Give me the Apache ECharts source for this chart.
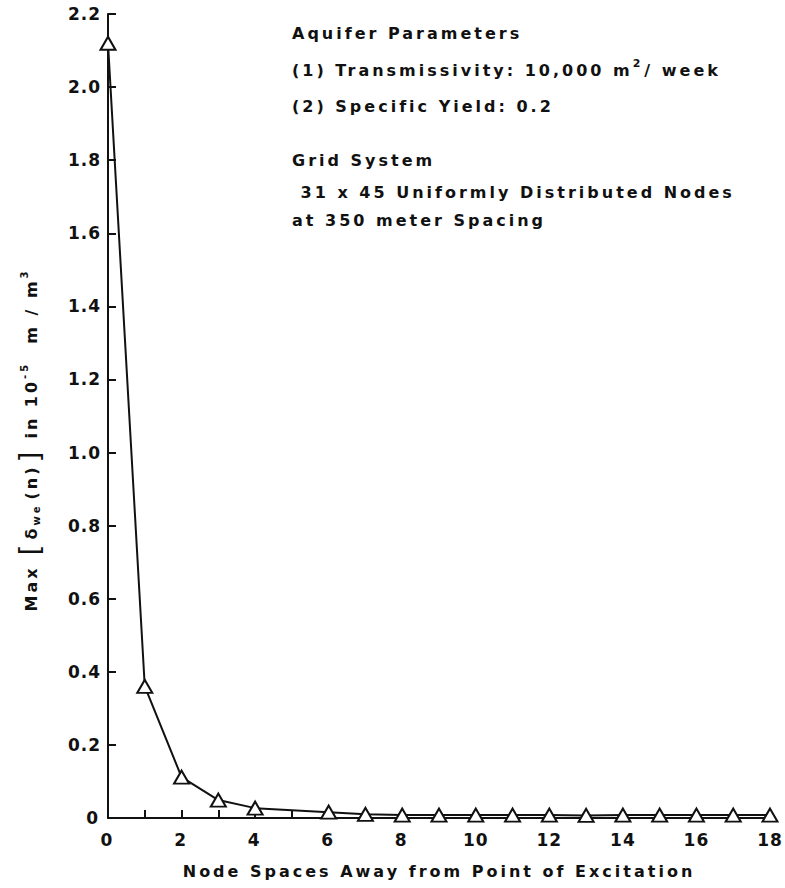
<!DOCTYPE html>
<html>
<head>
<meta charset="utf-8">
<script src="https://cdn.jsdelivr.net/npm/echarts@6/dist/echarts.min.js"></script>
<style>
  html, body { margin: 0; padding: 0; background: #fff; }
  #chart { width: 785px; height: 888px; }
  /* the original lettering is widely spaced */
  #chart text { letter-spacing: 3px; }
  #chart text.tick-num { letter-spacing: 1px; }
</style>
</head>
<body>
<div id="chart"></div>
<script>
// node spacing from the point of excitation (no point at 5 in the source)
const nodeSpaces = [0, 1, 2, 3, 4, 6, 7, 8, 9, 10, 11, 12, 13, 14, 15, 16, 17, 18]
// max response, in 10^-5 m/m^3
const maxResponse = [2.12, 0.36, 0.112, 0.049, 0.027, 0.016, 0.01, 0.008, 0.008, 0.008, 0.008,
  0.008, 0.007, 0.008, 0.008, 0.008, 0.008, 0.008]

const xLabeled = [0, 2, 4, 6, 8, 10, 12, 14, 16, 18]

const FONT = 'DejaVu Sans'
const INK = '#111'
const LS = 3 // letter spacing, same as the css rule

// measure text the way the browser will draw it (width + letter spacing)
const mctx = document.createElement('canvas').getContext('2d')
function textWidth(s, size, weight) {
  mctx.font = `${weight || 'bold'} ${size}px "${FONT}"`
  return mctx.measureText(s).width + LS * s.length
}

// lay out a run of text pieces one after another, starting at x0
function runOfText(pieces, x0, y0) {
  let x = x0
  return pieces.map((p) => {
    const el = {
      type: 'text',
      x: x,
      y: y0 + (p.dy || 0),
      style: {
        text: p.s,
        fontFamily: FONT,
        fontSize: p.size,
        fontWeight: p.weight || 'bold',
        fill: INK,
        verticalAlign: 'middle',
      },
    }
    x += textWidth(p.s, p.size, p.weight) + (p.gap || 0)
    return el
  })
}

function runWidth(pieces) {
  return pieces.reduce((w, p) => w + textWidth(p.s, p.size, p.weight) + (p.gap || 0), 0)
}

// notes in the upper right
const noteX = 292
const notes = [
  { y: 33, pieces: [{ s: 'Aquifer Parameters', size: 16 }] },
  { y: 70, pieces: [
    { s: '(1) Transmissivity: 10,000 m', size: 16 },
    { s: '2', size: 11, dy: -7, gap: 1 },
    { s: '/ week', size: 16 },
  ] },
  { y: 106, pieces: [{ s: '(2) Specific Yield: 0.2', size: 16 }] },
  { y: 160, pieces: [{ s: 'Grid System', size: 16 }] },
  { y: 192, pieces: [{ s: ' 31 x 45 Uniformly Distributed Nodes', size: 16 }] },
  { y: 220, pieces: [{ s: 'at 350 meter Spacing', size: 16 }] },
]

// rotated y axis title
const yTitle = [
  { s: 'Max', size: 16, gap: 10 },
  { s: '[', size: 28, weight: 'normal', dy: -1, gap: 2 },
  { s: 'δ', size: 16 },
  { s: 'we', size: 10, dy: 5, gap: 4 },
  { s: '(n)', size: 16, gap: 2 },
  { s: ']', size: 28, weight: 'normal', dy: -1, gap: 10 },
  { s: 'in 10', size: 16 },
  { s: '-5', size: 10, dy: -7, gap: 18 },
  { s: 'm / m', size: 16 },
  { s: '3', size: 10, dy: -7 },
]

const graphics = []
notes.forEach((n) => graphics.push(...runOfText(n.pieces, noteX, n.y)))
graphics.push({
  type: 'group',
  x: 31,
  y: 440,
  rotation: Math.PI / 2,
  children: runOfText(yTitle, -runWidth(yTitle) / 2, 0),
})

const chart = echarts.init(document.getElementById('chart'), null, { renderer: 'svg' })

// tick numbers are set tighter than the lettering
function tightenTickNumbers() {
  document.querySelectorAll('#chart text').forEach((t) => {
    if (/^\d+(\.\d)?$/.test(t.textContent.trim()) && t.textContent.trim().length > 1) {
      t.classList.add('tick-num')
    }
  })
}
chart.on('finished', tightenTickNumbers)

chart.setOption({
  backgroundColor: '#fff',
  animation: false,
  grid: { left: 108, top: 14, right: 15, bottom: 70 },
  xAxis: {
    type: 'value',
    min: 0,
    max: 18,
    interval: 1,
    name: 'Node Spaces Away from Point of Excitation',
    nameLocation: 'middle',
    nameGap: 45,
    nameTextStyle: { fontFamily: FONT, fontSize: 16, fontWeight: 'bold', color: INK },
    axisLine: { lineStyle: { color: INK, width: 2 } },
    axisTick: { inside: true, length: 8, lineStyle: { color: INK, width: 2 } },
    axisLabel: {
      fontFamily: FONT, fontSize: 17, fontWeight: 'bold', color: INK, margin: 13,
      formatter: (v) => (xLabeled.includes(v) ? String(v) : ''),
    },
    splitLine: { show: false },
  },
  yAxis: {
    type: 'value',
    min: 0,
    max: 2.2,
    interval: 0.2,
    axisLine: { lineStyle: { color: INK, width: 2 } },
    axisTick: { inside: true, length: 8, lineStyle: { color: INK, width: 2 } },
    axisLabel: {
      fontFamily: FONT, fontSize: 17, fontWeight: 'bold', color: INK, margin: 7,
      formatter: (v) => (v === 0 ? '0' : v.toFixed(1)),
    },
    splitLine: { show: false },
  },
  graphic: graphics,
  series: [{
    type: 'line',
    data: nodeSpaces.map((x, i) => [x, maxResponse[i]]),
    symbol: 'triangle',
    symbolSize: [15, 13],
    lineStyle: { color: INK, width: 2 },
    itemStyle: { color: '#fff', borderColor: INK, borderWidth: 2 },
  }],
})
setTimeout(tightenTickNumbers, 0)
</script>
</body>
</html>
